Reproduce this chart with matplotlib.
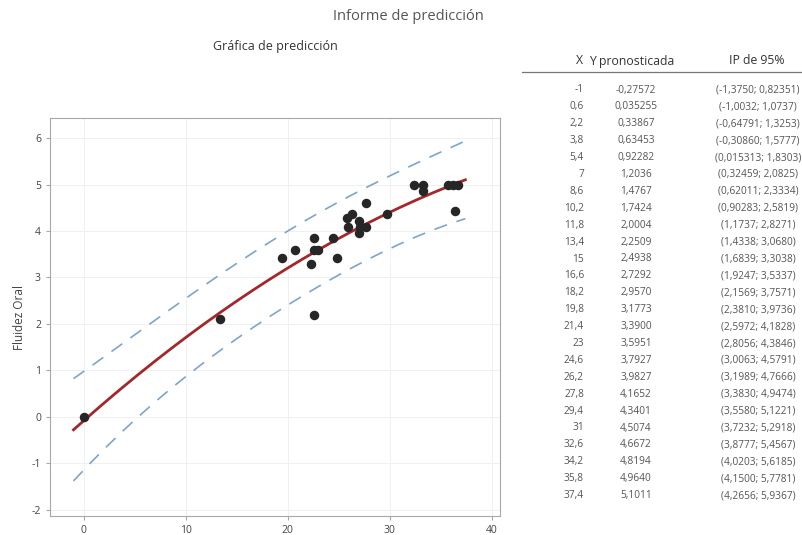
import matplotlib.pyplot as plt

plt.rcParams['font.family'] = ['Open Sans', 'DejaVu Sans']
plt.rcParams['axes.unicode_minus'] = False

obs_x = [0, 13.4, 19.4, 20.7, 22.3, 22.6, 22.6, 23.0, 22.6, 24.4, 24.8,
         25.8, 25.9, 26.3, 27.0, 27.1, 27.0, 27.7, 27.7, 29.7, 32.4,
         33.3, 33.3, 35.7, 36.2, 36.7, 36.4]
obs_y = [0, 2.1, 3.43, 3.6, 3.29, 3.86, 3.6, 3.6, 2.19, 3.86, 3.43,
         4.29, 4.09, 4.36, 4.22, 4.09, 3.96, 4.6, 4.09, 4.36, 5.0,
         5.0, 4.86, 5.0, 5.0, 5.0, 4.43]

# Tabla de prediccion
pred_x = [-1, 0.6, 2.2, 3.8, 5.4, 7, 8.6, 10.2, 11.8, 13.4, 15, 16.6,
          18.2, 19.8, 21.4, 23, 24.6, 26.2, 27.8, 29.4, 31, 32.6, 34.2,
          35.8, 37.4]
pred_y = [-0.27572, 0.035255, 0.33867, 0.63453, 0.92282, 1.2036, 1.4767,
          1.7424, 2.0004, 2.2509, 2.4938, 2.7292, 2.9570, 3.1773, 3.3900,
          3.5951, 3.7927, 3.9827, 4.1652, 4.3401, 4.5074, 4.6672, 4.8194,
          4.9640, 5.1011]
pi_low = [-1.3750, -1.0032, -0.64791, -0.30860, 0.015313, 0.32459, 0.62011,
          0.90283, 1.1737, 1.4338, 1.6839, 1.9247, 2.1569, 2.3810, 2.5972,
          2.8056, 3.0063, 3.1989, 3.3830, 3.5580, 3.7232, 3.8777, 4.0203,
          4.1500, 4.2656]
pi_high = [0.82351, 1.0737, 1.3253, 1.5777, 1.8303, 2.0825, 2.3334, 2.5819,
           2.8271, 3.0680, 3.3038, 3.5337, 3.7571, 3.9736, 4.1828, 4.3846,
           4.5791, 4.7666, 4.9474, 5.1221, 5.2918, 5.4567, 5.6185, 5.7781,
           5.9367]


def fmt(v):
    return ('%#.5g' % v).replace('.', ',')


fig = plt.figure(figsize=(8.03, 5.35), dpi=100)
ax = fig.add_axes([0.0623, 0.0355, 0.5604, 0.7439])

ax.plot(pred_x, pi_high, color='#7ea5c9', lw=1.2, dashes=(8, 6))
ax.plot(pred_x, pi_low, color='#7ea5c9', lw=1.2, dashes=(8, 6))
ax.plot(pred_x, pred_y, color='#a3282c', lw=2.0, zorder=3)
ax.scatter(obs_x, obs_y, s=34, color='#262626', zorder=4)

ax.set_xlim(-3.3, 40.8)
ax.set_ylim(-2.13, 6.43)
ax.set_xticks([0, 10, 20, 30, 40])
ax.set_yticks(range(-2, 7))
ax.grid(True, color='#f0f0f0', lw=0.7)
ax.set_axisbelow(True)
for sp in ax.spines.values():
    sp.set_color('#a8a8a8')
ax.tick_params(colors='#a8a8a8', labelcolor='#444444', labelsize=7.5,
               length=3, width=0.8)
ax.set_ylabel('Fluidez Oral', fontsize=8.5, color='#444444', labelpad=4)

fig.text(408 / 803, 1 - 17 / 535, 'Informe de predicción', ha='center',
         va='center', fontsize=10.5, color='#555555')
fig.text(275 / 803, 1 - 47 / 535, 'Gráfica de predicción', ha='center',
         va='center', fontsize=9, color='#333333')

# tabla
W, H = 803, 535
fig.text(583 / W, 1 - 61 / H, 'X', ha='right', va='center', fontsize=8.8,
         color='#333333')
fig.text(632 / W, 1 - 61 / H, 'Y pronosticada', ha='center', va='center',
         fontsize=8.8, color='#333333')
fig.text(757 / W, 1 - 61 / H, 'IP de 95%', ha='center', va='center',
         fontsize=8.8, color='#333333')
fig.add_artist(plt.Line2D([522 / W, 803 / W], [1 - 72 / H, 1 - 72 / H],
                          color='#777777', lw=0.9))

for i in range(len(pred_x)):
    yy = 1 - (90 + i * 16.9) / H
    xs = ('%g' % pred_x[i]).replace('.', ',')
    fig.text(584 / W, yy, xs, ha='right', va='center', fontsize=7.3,
             color='#555555')
    fig.text(636 / W, yy, fmt(pred_y[i]), ha='center', va='center',
             fontsize=7.3, color='#555555')
    ip = '(%s; %s)' % (fmt(pi_low[i]), fmt(pi_high[i]))
    fig.text(758 / W, yy, ip, ha='center', va='center', fontsize=7.3,
             color='#555555')

fig.savefig('out.png', dpi=100)
